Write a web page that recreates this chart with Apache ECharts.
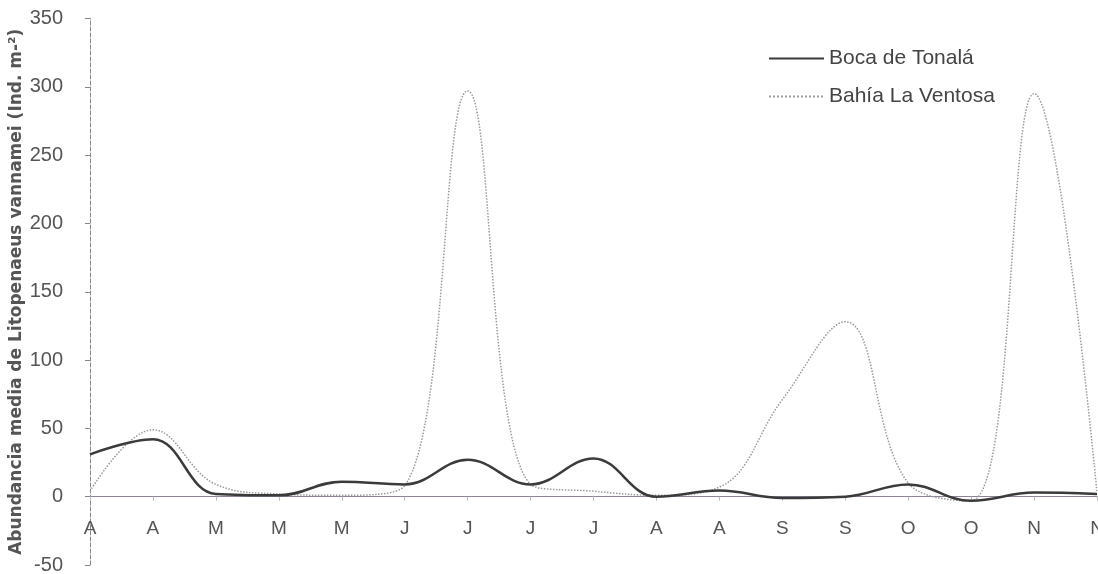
<!DOCTYPE html>
<html>
<head>
<meta charset="utf-8">
<script src="https://cdn.jsdelivr.net/npm/echarts@6/dist/echarts.min.js"></script>
<style>html,body{margin:0;padding:0;background:#fff;}#c{width:1098px;height:574px;}</style>
</head>
<body>
<div id="c"></div>
<script>
const categories = ['A','A','M','M','M','J','J','J','J','A','A','S','S','O','O','N','N'];
const bocaTonala = [31, 42, 2, 1, 11, 9, 27, 9, 28, 0, 4.5, -1, 0, 9, -3, 3, 2];
const bahiaVentosa = [4, 49, 9, 2, 1, 8, 297, 9, 4, 1, 7, 71, 128, 10, -3, 295, 3];
const yTicks = {min: -50, max: 350, step: 50};

const chart = echarts.init(document.getElementById('c'));
chart.setOption({
  animation: false,
  backgroundColor: '#ffffff',
  textStyle: {fontFamily: 'Liberation Sans, Arial, sans-serif'},
  grid: {left: 90, right: 1, top: 18.5, bottom: 9, containLabel: false, outerBoundsMode: 'none'},
  legend: {
    orient: 'vertical',
    left: 763,
    top: 43,
    itemWidth: 55,
    itemHeight: 14,
    itemGap: 17,
    itemStyle: {opacity: 0},
    textStyle: {fontSize: 21, color: '#444'},
    data: ['Boca de Tonalá', 'Bahía La Ventosa']
  },
  xAxis: {
    type: 'category',
    data: categories,
    boundaryGap: false,
    axisLine: {onZero: true, lineStyle: {color: '#8f8496', width: 1}},
    axisTick: {show: true, length: 4, inside: false, lineStyle: {color: '#bbb'}},
    axisLabel: {fontSize: 19, color: '#555', margin: -46, interval: 0}
  },
  yAxis: {
    type: 'value',
    min: yTicks.min,
    max: yTicks.max,
    interval: yTicks.step,
    name: 'Abundancia media de Litopenaeus vannamei (Ind. m-²)',
    nameLocation: 'middle',
    nameGap: 65,
    nameMoveOverlap: false,
    nameTextStyle: {fontSize: 17, fontWeight: 'bold', color: '#555', fontFamily: "'DejaVu Sans', sans-serif"},
    axisLine: {show: true, onZero: false, lineStyle: {color: '#888', type: 'dashed', width: 1}},
    axisTick: {show: true, length: 5, lineStyle: {color: '#888'}},
    axisLabel: {fontSize: 20, color: '#555', margin: 27},
    splitLine: {show: false}
  },
  series: [
    {
      name: 'Boca de Tonalá',
      type: 'line',
      data: bocaTonala,
      smooth: 0.4,
      showSymbol: false,
      symbol: 'none',
      lineStyle: {color: '#3b3b3b', width: 2.5},
      itemStyle: {color: '#3b3b3b'},
      z: 3
    },
    {
      name: 'Bahía La Ventosa',
      type: 'line',
      data: bahiaVentosa,
      smooth: 0.4,
      showSymbol: false,
      symbol: 'none',
      lineStyle: {color: '#9a9a9a', width: 1.5, type: 'dotted'},
      itemStyle: {color: '#9a9a9a'},
      z: 2
    }
  ]
});
</script>
</body>
</html>
